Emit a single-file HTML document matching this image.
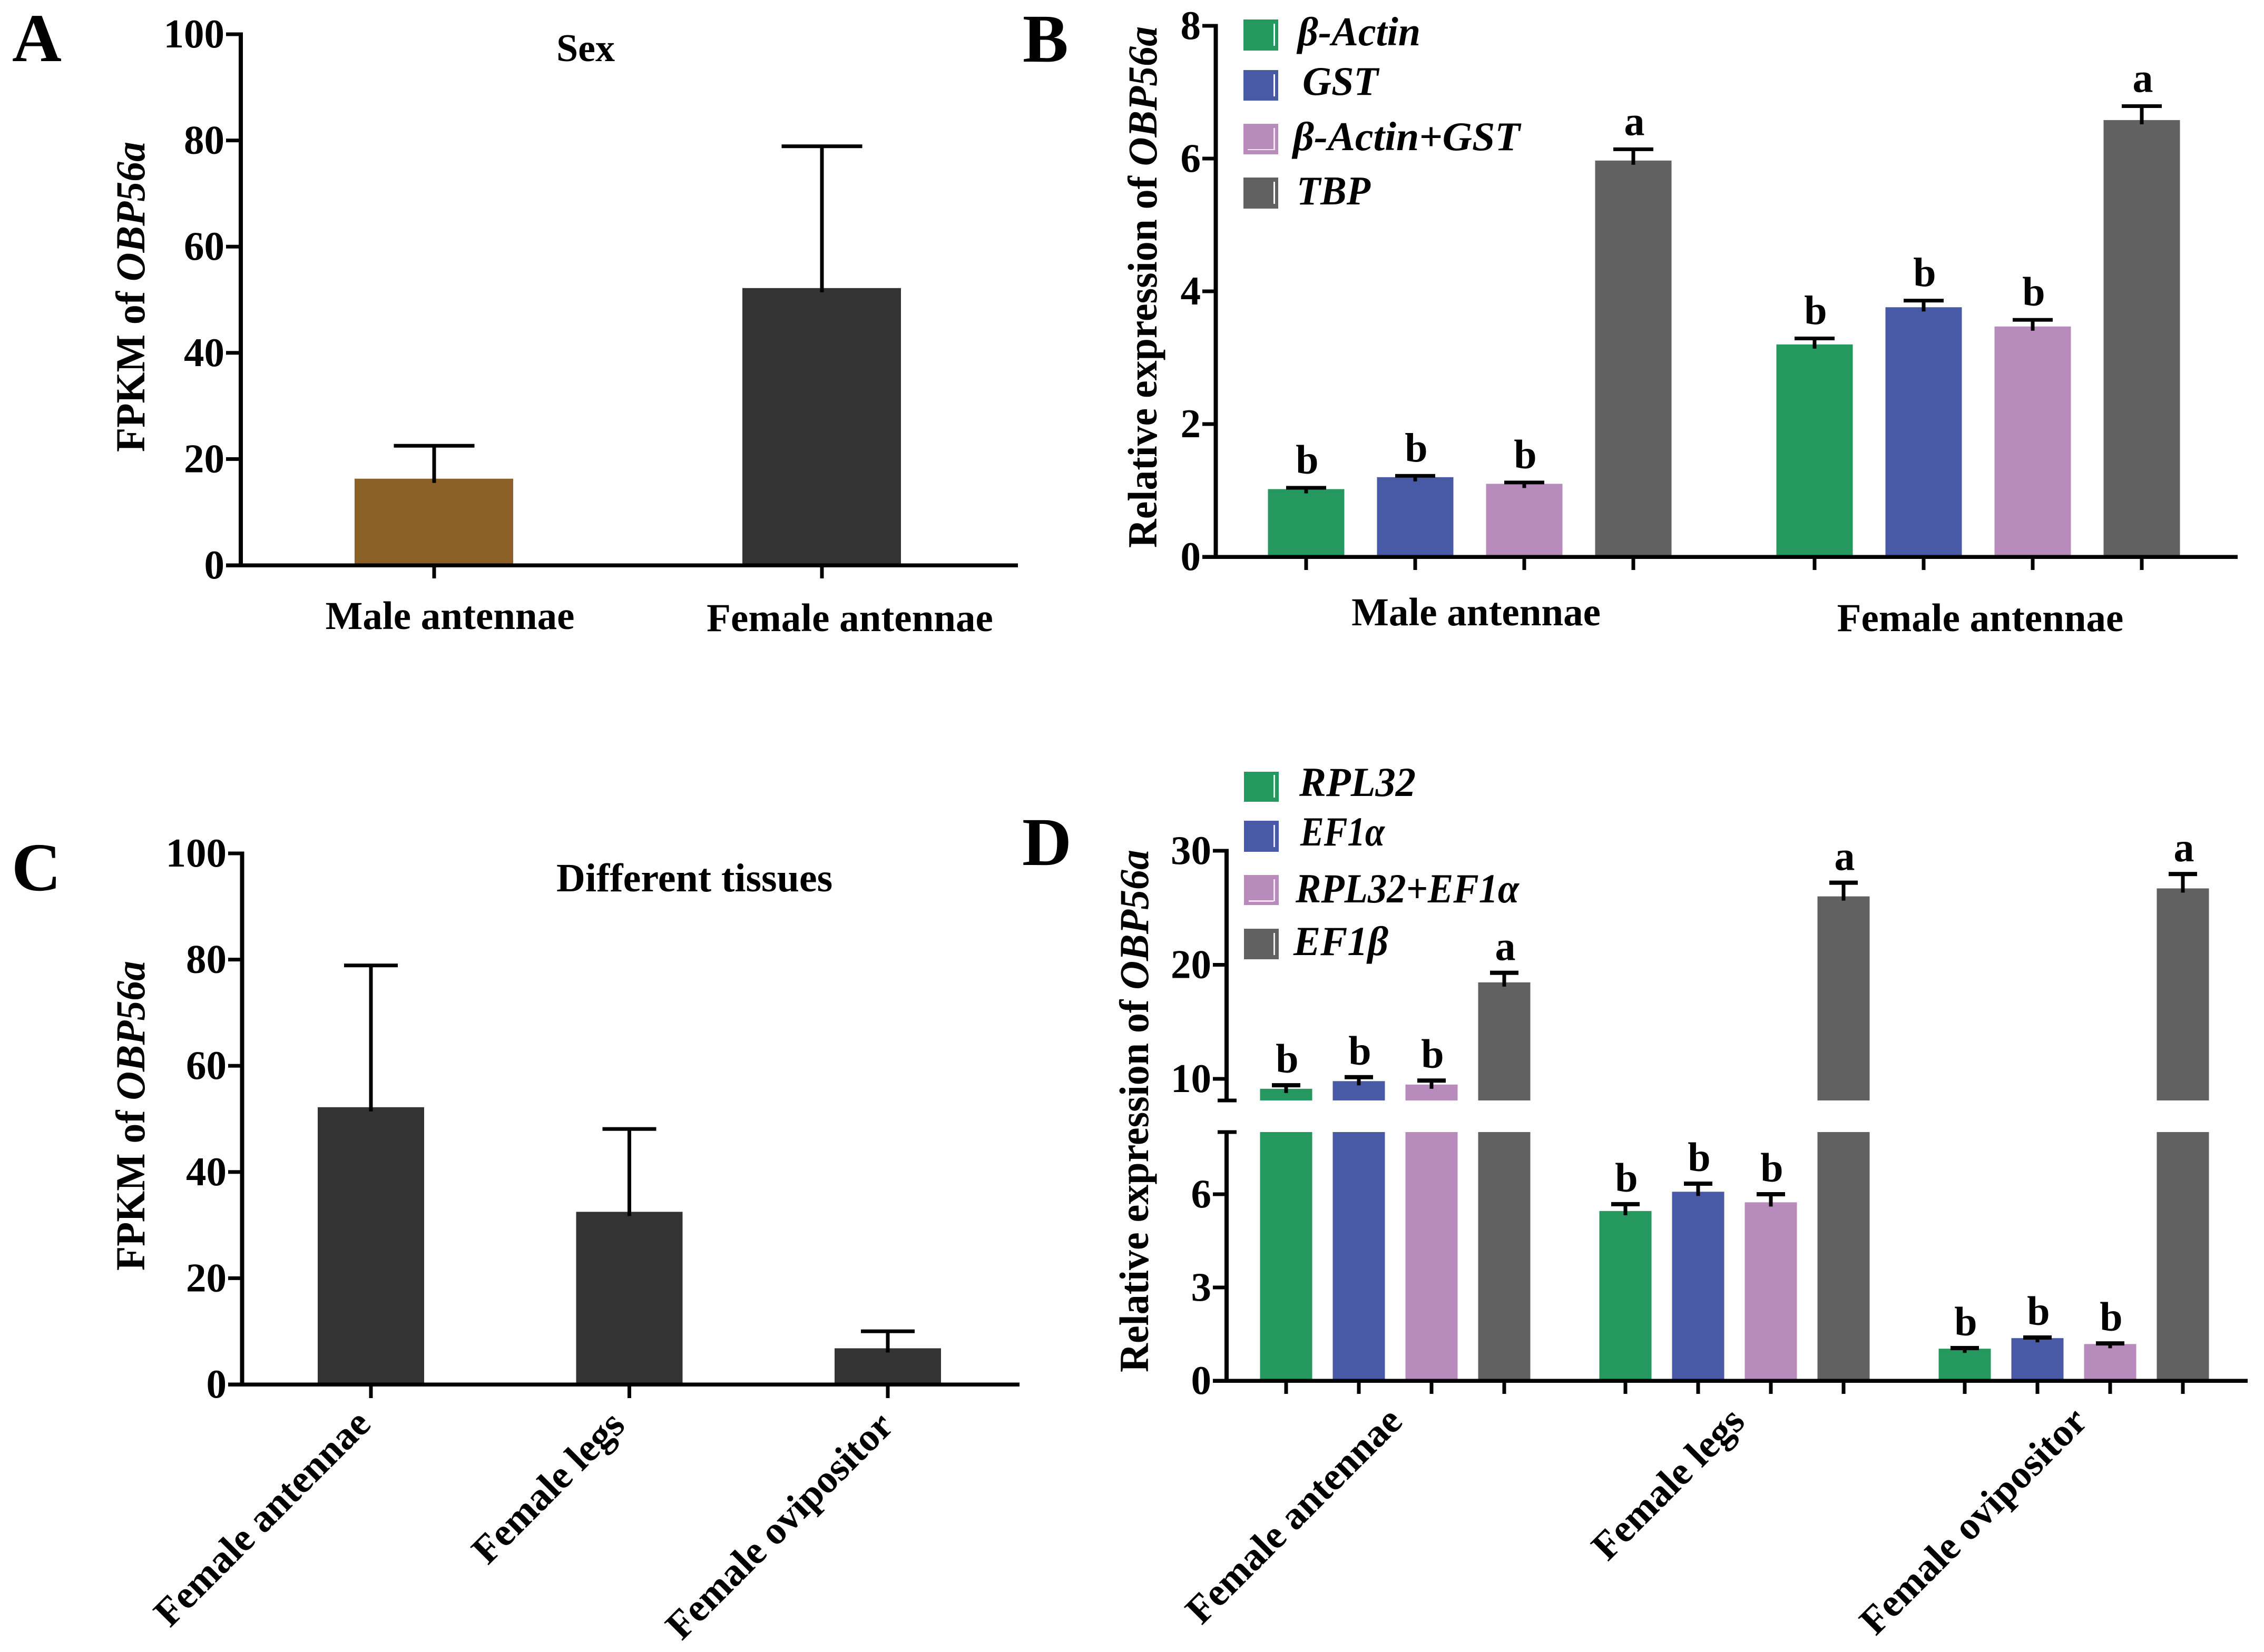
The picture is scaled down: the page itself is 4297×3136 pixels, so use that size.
<!DOCTYPE html>
<html lang="en">
<head>
<meta charset="utf-8">
<title>OBP56a expression charts</title>
<style>
html,body{margin:0;padding:0;background:#fff}
svg{display:block}
text{font-family:"Liberation Serif",serif;font-weight:bold;fill:#000}
.em{font-style:italic}
</style>
</head>
<body>
<svg id="figure" xmlns="http://www.w3.org/2000/svg" width="4297" height="3136" viewBox="0 0 4297 3136">
  <rect x="0" y="0" width="4297" height="3136" fill="#fff"/>

  <text x="23" y="116" font-size="130">A</text>
  <text x="1941" y="117" font-size="130">B</text>
  <text x="22" y="1690" font-size="130">C</text>
  <text x="1940" y="1642" font-size="130">D</text>

  <text x="1056" y="116" font-size="74">Sex</text>
  <text x="1056" y="1692" font-size="76">Different tissues</text>

  <text transform="translate(274,858) rotate(-90)" font-size="78" textLength="589" lengthAdjust="spacingAndGlyphs">FPKM of <tspan class="em">OBP56a</tspan></text>
  <text transform="translate(2195,1040) rotate(-90)" font-size="78" textLength="990" lengthAdjust="spacingAndGlyphs">Relative expression of <tspan class="em">OBP56a</tspan></text>
  <text transform="translate(274,2412) rotate(-90)" font-size="78" textLength="588" lengthAdjust="spacingAndGlyphs">FPKM of <tspan class="em">OBP56a</tspan></text>
  <text transform="translate(2179,2605) rotate(-90)" font-size="78" textLength="992" lengthAdjust="spacingAndGlyphs">Relative expression of <tspan class="em">OBP56a</tspan></text>

  <g>
    <g>
      <rect x="2360" y="37" width="66" height="59" fill="#25985F"/>
      <rect x="2417" y="45" width="3" height="42" fill="#fff"/>
      <text class="em" x="2463" y="86" font-size="77" textLength="233" lengthAdjust="spacingAndGlyphs">β-Actin</text>
    </g>
    <g>
      <rect x="2360" y="133" width="66" height="58" fill="#485AA5"/>
      <rect x="2417" y="141" width="3" height="42" fill="#fff"/>
      <text class="em" x="2472" y="180" font-size="77" textLength="144" lengthAdjust="spacingAndGlyphs">GST</text>
    </g>
    <g>
      <rect x="2360" y="235" width="66" height="58" fill="#B88BBD"/>
      <rect x="2417" y="243" width="3" height="42" fill="#f2e6f3"/>
      <rect x="2368" y="283" width="49" height="2" fill="#f2e6f3"/>
      <text class="em" x="2454" y="285" font-size="77" textLength="431" lengthAdjust="spacingAndGlyphs">β-Actin+GST</text>
    </g>
    <g>
      <rect x="2360" y="337" width="66" height="59" fill="#616161"/>
      <rect x="2417" y="345" width="3" height="42" fill="#fff"/>
      <text class="em" x="2461" y="388" font-size="77" textLength="140" lengthAdjust="spacingAndGlyphs">TBP</text>
    </g>
  </g>

  <g>
    <g>
      <rect x="2361" y="1465" width="66" height="57" fill="#25985F"/>
      <rect x="2417" y="1471" width="3" height="43" fill="#e6f4ec"/>
      <text class="em" x="2466" y="1511" font-size="78" textLength="221" lengthAdjust="spacingAndGlyphs">RPL32</text>
    </g>
    <g>
      <rect x="2361" y="1558" width="66" height="59" fill="#485AA5"/>
      <rect x="2417" y="1566" width="3" height="42" fill="#e6e8f4"/>
      <text class="em" x="2468" y="1605" font-size="78" textLength="160" lengthAdjust="spacingAndGlyphs">EF1α</text>
    </g>
    <g>
      <rect x="2361" y="1661" width="66" height="57" fill="#B88BBD"/>
      <rect x="2417" y="1669" width="3" height="42" fill="#f2e6f3"/>
      <rect x="2370" y="1709" width="47" height="3" fill="#f2e6f3"/>
      <text class="em" x="2459" y="1713" font-size="78" textLength="424" lengthAdjust="spacingAndGlyphs">RPL32+EF1α</text>
    </g>
    <g>
      <rect x="2361" y="1763" width="66" height="58" fill="#616161"/>
      <rect x="2417" y="1771" width="3" height="42" fill="#eee"/>
      <text class="em" x="2455" y="1813" font-size="78" textLength="180" lengthAdjust="spacingAndGlyphs">EF1β</text>
    </g>
  </g>
</svg>

<script>
/* ---------- Panel A data ---------- */
const categoriesA = ["Male antennae", "Female antennae"];
const valuesA = [16.3, 52.2];
const errorTopsA = [22.5, 78.9];
const colorsA = ["#8B6128", "#333333"];
const ticksA = [0, 20, 40, 60, 80, 100];

/* ---------- Panel B data ---------- */
const categoriesB = ["Male antennae", "Female antennae"];
const seriesNamesB = ["beta-actin", "gst", "beta-actin-gst", "tbp"];
const valuesBMale = [1.02, 1.2, 1.1, 5.97];
const valuesBFemale = [3.2, 3.76, 3.47, 6.58];
const errorTopsBMale = [1.04, 1.22, 1.12, 6.14];
const errorTopsBFemale = [3.29, 3.86, 3.57, 6.79];
const lettersBMale = ["b", "b", "b", "a"];
const lettersBFemale = ["b", "b", "b", "a"];
const ticksB = [0, 2, 4, 6, 8];

/* ---------- Panel C data ---------- */
const categoriesC = ["Female antennae", "Female legs", "Female ovipositor"];
const valuesC = [52.2, 32.5, 6.8];
const errorTopsC = [78.9, 48.1, 10.0];
const ticksC = [0, 20, 40, 60, 80, 100];

/* ---------- Panel D data ---------- */
const categoriesD = ["Female antennae", "Female legs", "Female ovipositor"];
const seriesNamesD = ["rpl32", "ef1-alpha", "rpl32-ef1-alpha", "ef1-beta"];
const valuesDAntennae = [9.13, 9.8, 9.5, 18.46];
const valuesDLegs = [5.46, 6.08, 5.74, 26.0];
const valuesDOvipositor = [1.03, 1.37, 1.18, 26.7];
const errorTopsDAntennae = [9.44, 10.15, 9.85, 19.3];
const errorTopsDLegs = [5.68, 6.34, 6.0, 27.2];
const errorTopsDOvipositor = [1.05, 1.39, 1.2, 27.96];
const lettersDAntennae = ["b", "b", "b", "a"];
const lettersDLegs = ["b", "b", "b", "a"];
const lettersDOvipositor = ["b", "b", "b", "a"];
const ticksDLower = [0, 3, 6];
const ticksDUpper = [10, 20, 30];

const seriesColors = ["#25985F", "#485AA5", "#B88BBD", "#616161"];

const NS = "http://www.w3.org/2000/svg";
const fig = document.getElementById("figure");

function addRect(name, x, y, w, h, fill) {
  const el = document.createElementNS(NS, "rect");
  
  
  el.setAttribute("x", x);
  el.setAttribute("y", y);
  el.setAttribute("width", w);
  el.setAttribute("height", h);
  el.setAttribute("fill", fill);
  fig.appendChild(el);
  return el;
}

function addText(name, str, x, y, size, anchor, transform) {
  const el = document.createElementNS(NS, "text");
  
  
  if (transform) {
    el.setAttribute("transform", transform);
  } else {
    el.setAttribute("x", x);
    el.setAttribute("y", y);
  }
  el.setAttribute("font-size", size);
  el.setAttribute("text-anchor", anchor);
  el.textContent = str;
  fig.appendChild(el);
  return el;
}

function yTick(y, axisX, tickLeft, label, thick) {
  addRect("y-axis-tick", tickLeft, y - thick / 2, axisX - tickLeft, thick, "#000");
  addText("y-tick-label", String(label), tickLeft - 3, y + 25, 77, "end");
}

function xTick(x, yAxis, len) {
  addRect("x-axis-tick", x - 3.5, yAxis, 7, len, "#000");
}

function errorBar(name, x, yTop, yBar, capW, capH) {
  addRect(name + "-error-stem", x - 3.5, yTop, 7, yBar + 8 - yTop, "#000");
  addRect(name + "-error-cap", x - capW / 2, yTop - capH / 2, capW, capH, "#000");
}

/* ---------- Panel A ---------- */
const yA = v => 1073 - v * 10.08;
const xA = i => 824 + i * 736;
categoriesA.forEach((c, i) => {
  const x = xA(i);
  addRect("bar-" + c.toLowerCase().replace(/ /g, "-"), x - 151, yA(valuesA[i]), 301, yA(0) - yA(valuesA[i]), colorsA[i]);
  errorBar("panel-a-" + i, x, yA(errorTopsA[i]), yA(valuesA[i]), 153, 7);
  xTick(x, yA(0), 25);
  addText("x-category-label", c, x + 30 + 23 * i, 1194 + 4 * i, 75, "middle");
});
addRect("panel-a-y-axis", 453, yA(100) - 3.5, 8, yA(0) - yA(100) + 7, "#000");
addRect("panel-a-x-axis", 429, yA(0) - 3.5, 1503, 7.5, "#000");
ticksA.forEach(t => yTick(yA(t), 457, 429, t, 7));

/* ---------- Panel B ---------- */
const yB = v => 1057 - v * 126;
const xB = (g, s) => 2479 + g * 965 + s * 207;
function drawB(g, vals, tops, letters) {
  vals.forEach((v, s) => {
    const x = xB(g, s);
    addRect("bar-b-" + seriesNamesB[s], x - 72.5, yB(v), 145, yB(0) - yB(v), seriesColors[s]);
    errorBar("panel-b-" + seriesNamesB[s], x, yB(tops[s]), yB(v), 76, 7);
    addText("significance-letter", letters[s], x + 2, yB(tops[s]) - 27, 78, "middle");
    xTick(x, yB(0), 25);
  });
}
drawB(0, valuesBMale, errorTopsBMale, lettersBMale);
drawB(1, valuesBFemale, errorTopsBFemale, lettersBFemale);
categoriesB.forEach((c, g) => {
  const center = (xB(g, 0) + xB(g, 3)) / 2;
  addText("x-category-label", c, center + 12 - 8 * g, 1187 + 11 * g, 75, "middle");
});
addRect("panel-b-y-axis", 2303.5, yB(8) - 3.5, 8, yB(0) - yB(8) + 7, "#000");
addRect("panel-b-x-axis", 2282, yB(0) - 3.5, 1965, 7.5, "#000");
ticksB.forEach(t => yTick(yB(t), 2307, 2282, t, 7));

/* ---------- Panel C ---------- */
const yC = v => 2628 - v * 10.08;
const xC = i => 704 + i * 490.5;
categoriesC.forEach((c, i) => {
  const x = xC(i);
  addRect("bar-c-" + c.toLowerCase().replace(/ /g, "-"), x - 101, yC(valuesC[i]), 202, yC(0) - yC(valuesC[i]), "#333333");
  errorBar("panel-c-" + i, x, yC(errorTopsC[i]), yC(valuesC[i]), 102, 7);
  xTick(x, yC(0), 26);
  const nudge = i === 1 ? -8 : (i === 2 ? 11 : 0);
  addText("x-category-label", c, 0, 0, 75, "end", "translate(" + (x + 3 + nudge) + "," + (2707 + 2 * i) + ") rotate(-45)");
});
addRect("panel-c-y-axis", 455.5, yC(100) - 3.5, 8, yC(0) - yC(100) + 7, "#000");
addRect("panel-c-x-axis", 433, yC(0) - 3.5, 1502, 7.5, "#000");
ticksC.forEach(t => yTick(yC(t), 459, 433, t, 7));

/* ---------- Panel D (broken y axis) ---------- */
const yDLower = v => 2621 - v * 59;
const yDUpper = v => 2048 - (v - 10) * 21.65;
const breakValue = 8;
const yDLowerEnd = yDLower(breakValue);
const yDUpperStart = 2089;
const yD = v => (v > breakValue ? Math.min(yDUpper(v), yDUpperStart) : yDLower(v));
const xD = (g, s) => 2441 + g * 644 + s * 138;
function drawD(g, vals, tops, letters) {
  vals.forEach((v, s) => {
    const x = xD(g, s);
    const n = "bar-d-" + seriesNamesD[s];
    const low = Math.min(v, breakValue);
    addRect(n, x - 49.5, yDLower(low), 99, yDLower(0) - yDLower(low), seriesColors[s]);
    if (v > breakValue) {
      addRect(n + "-upper", x - 49.5, yD(v), 99, yDUpperStart - yD(v), seriesColors[s]);
    }
    errorBar("panel-d-" + seriesNamesD[s], x, yD(tops[s]), yD(v), 54, 8);
    addText("significance-letter", letters[s], x + 2, yD(tops[s]) - 24, 78, "middle");
    xTick(x, yDLower(0), 25);
  });
}
drawD(0, valuesDAntennae, errorTopsDAntennae, lettersDAntennae);
drawD(1, valuesDLegs, errorTopsDLegs, lettersDLegs);
drawD(2, valuesDOvipositor, errorTopsDOvipositor, lettersDOvipositor);
categoriesD.forEach((c, g) => {
  const center = (xD(g, 0) + xD(g, 3)) / 2;
  addText("x-category-label", c, 0, 0, 75, "end", "translate(" + (center + 17 + 6 * g) + ",2702) rotate(-45)");
});
addRect("panel-d-y-axis-upper", 2324, yDUpper(30) - 3.5, 8, yDUpperStart - yDUpper(30) + 3.5, "#000");
addRect("panel-d-y-axis-lower", 2324, yDLowerEnd, 8, yDLower(0) - yDLowerEnd, "#000");
addRect("panel-d-axis-break-cap", 2311, yDUpperStart - 3.5, 36, 7, "#000");
addRect("panel-d-axis-break-cap", 2311, yDLowerEnd - 3.5, 36, 7, "#000");
addRect("panel-d-x-axis", 2302, yDLower(0) - 3.5, 1964, 7.5, "#000");
ticksDLower.forEach(t => yTick(yDLower(t), 2328, 2302, t, 7));
ticksDUpper.forEach(t => yTick(yDUpper(t), 2328, 2302, t, 7));
</script>
</body>
</html>
